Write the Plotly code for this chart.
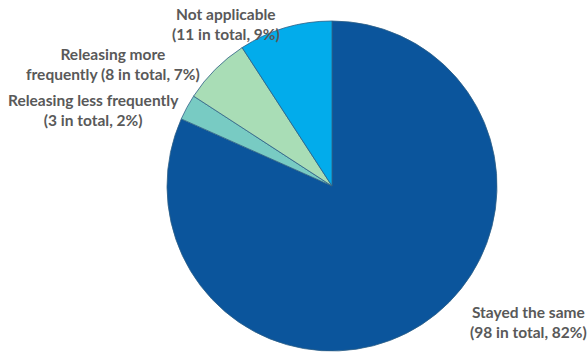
import plotly.graph_objects as go

# Survey answers, drawn clockwise from 12 o'clock
categories = ["Stayed the same", "Releasing less frequently",
              "Releasing more frequently", "Not applicable"]
counts = [98, 3, 8, 11]
percents = [82, 2, 7, 9]
colors = ["#0B559C", "#78CBC3", "#A9DDB6", "#02ACEB"]

# Label lines (how each label wraps) and where each label sits (paper coords)
label_lines = [
    ("Stayed the same", "({n} in total, {p}%)"),
    ("Releasing less frequently", "({n} in total, {p}%)"),
    ("Releasing more", "frequently ({n} in total, {p}%)"),
    ("Not applicable", "({n} in total, {p}%)"),
]
W, H = 588, 354
label_px = [(528, 322), (93, 110), (113, 64), (226, 24)]

fig = go.Figure(go.Pie(
    labels=categories,
    values=counts,
    sort=False,
    direction="clockwise",
    rotation=0,
    marker=dict(colors=colors, line=dict(color="#2d5f86", width=0.8)),
    textinfo="none",
    hoverinfo="label+value+percent",
    domain=dict(x=[(332 - 165) / W, (332 + 165) / W],
                y=[1 - 351 / H, 1 - 21 / H]),
    showlegend=False,
))

for (l1, l2), n, p, (px, py) in zip(label_lines, counts, percents, label_px):
    fig.add_annotation(
        x=px / W, y=1 - py / H, xref="paper", yref="paper",
        text=l1 + "<br>" + l2.format(n=n, p=p),
        showarrow=False, align="center",
        xanchor="center", yanchor="middle",
        font=dict(family="Lato", size=15.5, color="#595959", weight="bold"),
    )

fig.update_layout(
    width=W, height=H,
    margin=dict(l=0, r=0, t=0, b=0),
    paper_bgcolor="white",
    plot_bgcolor="white",
)

fig.write_html("out.html")
